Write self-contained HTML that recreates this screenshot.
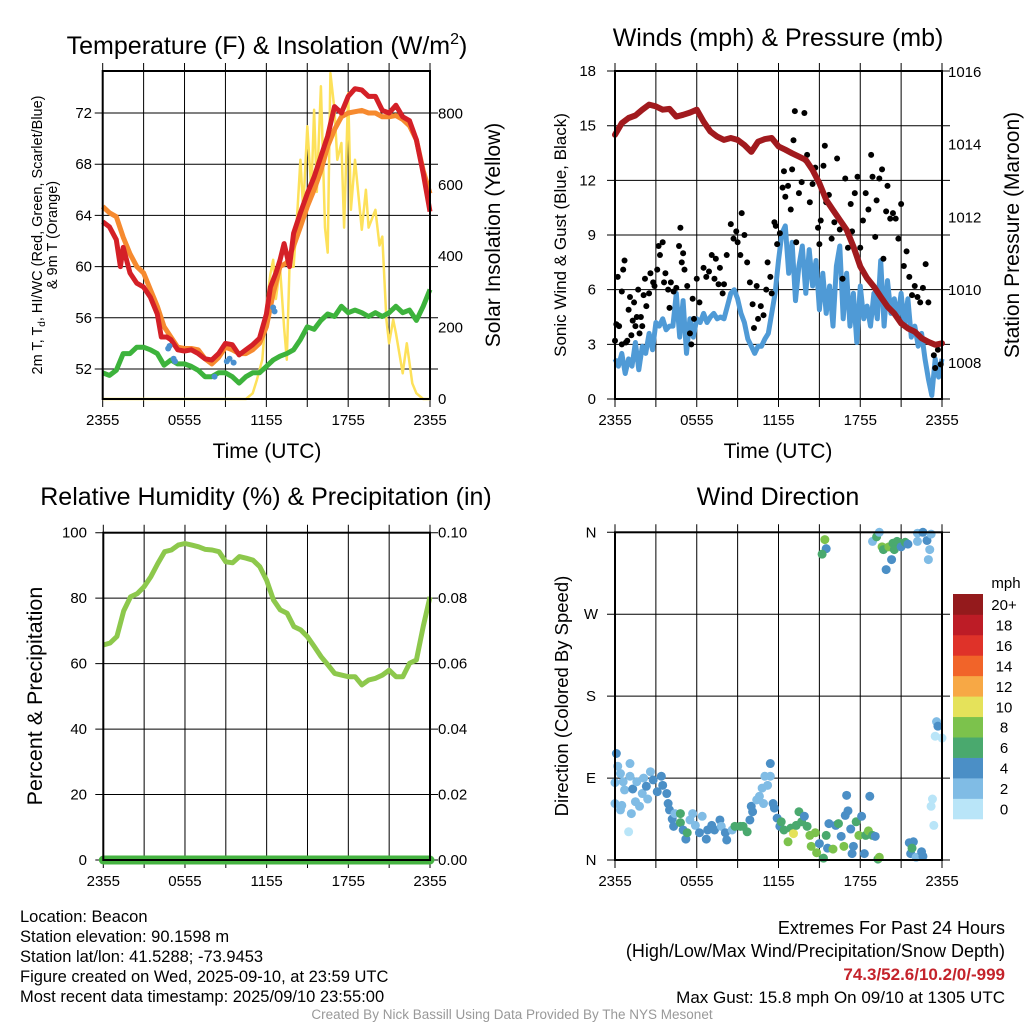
<!DOCTYPE html>
<html><head><meta charset="utf-8"><style>
html,body{margin:0;padding:0;background:#fff;}
svg{display:block;font-family:"Liberation Sans",Arial,sans-serif;}
</style></head><body>
<svg id="fig" width="1024" height="1024" viewBox="0 0 1024 1024" xmlns="http://www.w3.org/2000/svg"></svg>
<script>
// ---------------- DATA ----------------
const xTickLabels = ["2355","0555","1155","1755","2355"];
const tempLeftTicks = [52,56,60,64,68,72];
const insolTicks = [0,200,400,600,800];
const windTicks = [0,3,6,9,12,15,18];
const presTicks = [1008,1010,1012,1014,1016];
const rhTicks = [0,20,40,60,80,100];
const precipTicks = ["0.00","0.02","0.04","0.06","0.08","0.10"];
const dirTickLabels = ["N","E","S","W","N"];
const speedBins = ["0","2","4","6","8","10","12","14","16","18","20+"];

const redHours = [0,0.5,1,1.3,1.5,2,2.5,3,3.5,4,4.3,4.7,5,5.5,6,6.5,7,7.5,8,8.5,9,9.5,10,10.5,11,11.5,12,12.3,12.7,13,13.3,13.7,14,14.5,15,15.5,16,16.5,17,17.5,18,18.5,19,19.5,20,20.5,21,21.5,22,22.5,23,23.5,24];
const tempRed = [63.5,63.1,62.1,60,61.5,59.5,58.7,58.4,57.6,56.3,54.5,54.5,54.3,53.5,53.4,53.5,53.2,52.8,52.7,53.2,54,53.9,53.1,53.5,53.9,54.4,56.3,58.4,59.5,60.5,61.8,60,62.6,64.2,65.7,67,68.6,70.2,72.5,72,73.3,73.9,73.8,73.3,73.3,72.2,72,72.6,71.7,71.4,69.9,67.3,64.3];
const temp9m = [64.7,64.2,63.9,62.3,61,60,59.5,58.2,56.9,55.3,54.5,53.7,53.6,53.6,53.5,52.8,52.4,52.9,53.7,53.5,53.2,53.2,53.5,54,55.3,57.9,60,60.3,61.6,63.1,64.7,66,67.5,69.4,70.7,71.7,72,72.1,72.2,72,72,71.7,71.7,71.8,71.5,71,69.9,67.5,65.7];
const dewpoint = [51.7,51.5,51.9,53.2,53.2,53.7,53.7,53.5,53.2,52.3,52.7,52.4,52.4,52.2,51.9,51.4,51.4,51.7,51.7,51.4,50.9,51.4,51.7,51.7,52.2,52.7,53,53.2,53.5,54.3,55.3,55.1,55.8,56.3,56.1,56.9,56.4,56.6,56.4,56.1,56.4,56.1,56.4,56.9,56.4,56.6,55.8,56.9,58.2];
const hiwcHours = [4.8,4.9,5.2,5.3,8.2,9.1,9.3,9.6,12.5,12.6];
const hiwcValues = [53.6,53.8,52.8,52.6,51.4,52.6,52.8,52.5,56.8,56.5];
const insolHours = [0,10.5,11,11.3,11.7,12,12.3,12.5,12.7,13,13.3,13.5,13.7,14,14.3,14.5,14.7,15,15.3,15.5,15.7,16,16.3,16.5,16.7,17,17.2,17.5,17.7,18,18.2,18.5,19,19.3,19.5,20,20.3,20.5,20.8,21,21.3,21.5,22,22.3,22.7,23,23.5,24];
const insolValues = [0,0,16,53,110,260,350,390,280,370,200,110,370,370,540,670,530,764,580,810,580,876,480,410,913,810,670,717,480,857,530,670,474,586,480,530,430,455,222,156,222,185,72,156,44,16,0,0];

const pressure = [1014.27,1014.59,1014.73,1014.8,1014.96,1015.1,1015.05,1014.96,1014.98,1014.77,1014.82,1014.88,1014.96,1014.63,1014.36,1014.22,1014.13,1014.18,1014.13,1013.99,1013.8,1014.08,1014.15,1014.18,1013.95,1013.86,1013.76,1013.67,1013.58,1013.3,1012.94,1012.48,1012.2,1011.93,1011.66,1011.2,1010.65,1010.33,1010.1,1009.82,1009.55,1009.36,1009.09,1008.95,1008.86,1008.68,1008.58,1008.5,1008.54];
const windSpeed = [2.2,1.8,2.5,1.4,2.2,1.8,3.1,1.6,2.9,2.5,3.6,2.7,4.2,4.0,4.4,3.8,4.0,4.0,5.8,3.4,5.4,2.5,4.4,3.4,4.4,4.2,4.7,4.2,4.5,4.7,4.4,4.5,4.4,5.1,5.8,6.0,5.5,4.7,4.2,3.3,2.9,2.5,2.9,2.9,3.3,3.6,4.7,5.8,7.6,9.1,9.5,6.9,8.6,5.4,7.3,8.4,5.8,8.2,6.2,7.6,4.9,6.9,4.7,6.2,4.0,7.3,8.4,4.4,6.9,4.0,5.8,3.1,6.2,4.4,5.1,4.0,5.8,4.4,7.6,4.0,6.5,4.7,5.5,4.4,5.8,4.0,5.5,3.4,4.0,2.9,3.6,2.2,1.1,0.2,2.2,1.2,2.2];
const gustHours = [0,0.1,0.2,0.3,0.5,0.5,0.6,0.7,0.8,0.9,1,1.1,1.2,1.3,1.4,1.5,1.6,1.7,1.8,1.9,2,2.1,2.2,2.3,2.5,2.6,2.8,2.9,3.1,3.2,3.3,3.5,3.6,3.7,3.9,4,4.1,4.3,4.5,4.7,4.8,4.9,5,5.1,5.3,5.5,5.6,5.7,5.8,6,6.2,6.5,6.7,6.9,7.1,7.3,7.4,7.6,7.7,7.9,8,8.2,8.5,8.7,8.9,9,9.2,9.3,9.5,9.7,9.9,10.1,10.2,10.4,10.5,10.7,10.9,11.1,11.2,11.4,11.5,11.7,11.8,11.9,12.1,12.3,12.4,12.5,12.7,12.9,13,13.1,13.2,13.3,13.5,13.7,13.9,14,14.1,14.3,14.5,14.7,14.9,15,15.1,15.3,15.4,15.5,15.7,15.9,16.1,16.3,16.5,16.7,16.9,17.1,17.3,17.4,17.6,17.8,18,18.2,18.4,18.6,18.8,18.9,19.1,19.2,19.4,19.6,19.7,19.9,20,20.2,20.4,20.6,20.8,21,21.2,21.4,21.6,21.8,22,22.2,22.4,22.6,22.8,23,23.4,23.5,23.7,23.9];
const gustValues = [3.2,4.1,6.7,4,3,5.9,7.1,7.6,3.1,3.2,4.9,5.6,3.5,4.3,5.3,4,4.5,6,3.6,4.5,4,5.7,6.6,5.1,5.8,6.9,6.4,6.2,7.1,8.4,7.9,8.6,6.4,6.9,6,5,6.4,5.9,6.1,8.4,9.4,7.5,8,7.1,6.2,3.6,3,5.5,4.4,6.6,5.3,7.2,6.7,7,7.9,6.6,7.7,6.3,7.2,5.8,6.3,7.9,9.6,8.8,9.2,8.6,7.9,10.2,9,7.5,6.4,5.2,3.9,6.2,4.4,5.1,4.6,6,7.5,6.7,5.8,9.7,9.5,8.5,9.1,11.6,12.5,11.1,11.7,10.4,12.6,14.2,15.8,8.6,11.3,11.9,15.7,13.1,13.4,10.8,11.8,12.7,9.4,8.5,9.8,12.8,13.9,10.8,11.2,8.8,9.7,13.2,9.3,6.6,12.1,8.3,10.7,9.2,11.3,12.2,8.3,9.8,11.3,10.4,13.4,12.2,8.9,10.9,12.1,12.6,7.7,10.3,11.7,9.9,10.2,9.9,8.8,10.7,7.3,8.1,6.7,5.7,6.2,5.6,5.3,6.1,7.4,5.3,2.4,1.7,2.7,1.9];

const rhValues = [65.7,66.3,68.3,76.1,80.4,81.4,83.5,86.6,90.6,94.2,94.7,96.2,96.7,96.2,95.7,94.9,94.7,94.2,91.1,90.8,92.7,92.2,91.6,89.6,85.5,79.4,76.4,75.4,71.3,70.3,68.2,65.2,62.1,59.6,57,56.5,56,56,53.5,55,55.5,56.5,58,56,56,60.1,61.1,71.3,80.4];
const precipValues = [0,0,0,0,0,0,0,0,0,0,0,0,0,0,0,0,0,0,0,0,0,0,0,0,0,0,0,0,0,0,0,0,0,0,0,0,0,0,0,0,0,0,0,0,0,0,0,0,0];

const dirHours = [0.1,0.2,0.4,0,0,0.5,0.4,1,0.6,1.1,1.1,0.7,1.3,1.2,1.5,1.6,1.8,2,2.1,2.3,2.4,2.6,2.8,3.1,3.4,3.5,3.8,3.9,4,4.2,4.3,4.4,4.8,4.8,5,5.2,5.3,5.5,5.7,5.9,6.2,6.4,6.7,6.8,7.1,7.3,7.7,7.8,8.1,8.2,8.6,8.8,9.2,9.4,9.7,9.9,10,10.1,10.4,10.6,10.8,10.9,11,11.2,11.4,11.4,11.6,11.7,11.9,12.1,12.2,12.4,12.7,12.9,13.1,13.3,13.5,13.7,13.9,14.1,14.3,14.4,14.7,14.8,15,15.3,15.5,15.7,15.6,16,16.2,16.4,16.6,16.8,16.9,17,17.1,17.3,17.4,17.5,17.7,17.9,18.1,18.3,18.4,18.6,18.7,18.9,19.1,19.3,19.4,15.4,15.5,15.2,18.9,19.2,19.4,19.6,19.7,19.9,20.1,20.3,20.4,20.5,20.7,20.9,21,21.3,21.5,22.2,22.6,22.9,23.1,23,23.2,22.2,23.6,23.7,23.5,24,23.3,23.2,23.4,21.6,21.9,21.7,21.8,22.1,22.5,22.6];
const dirDeg = [117,103,95,85,62,60,55,31,86,106,92,77,78,51,64,86,59,73,90,81,67,97,88,75,92,82,73,62,55,45,37,51,51,41,33,23,30,44,51,38,30,48,23,33,38,33,44,37,30,22,33,37,37,37,31,44,59,53,66,70,79,62,92,82,106,92,62,57,46,37,42,33,20,35,29,38,53,42,48,37,27,15,30,8,18,2,27,40,13,12,38,40,26,15,49,71,54,34,7,15,42,27,48,7,27,32,70,27,26,1,3,352,342,336,350,355,360,344,341,319,344,330,348,341,350,348,344,349,347,359,360,351,341,330,358,350,152,147,136,134,67,59,38,19,20,7,13,3,9,4];
const dirSpeed = [3,2,1,1,2,2,1,0,2,2,2,2,4,2,2,2,2,1,2,4,2,2,4,4,4,4,4,4,4,4,4,2,6,6,4,4,6,2,2,2,4,2,4,4,4,4,4,2,4,4,2,6,6,6,6,4,4,4,2,2,2,2,2,2,4,2,4,4,4,4,6,6,8,6,10,6,6,6,4,6,8,8,8,8,4,6,6,4,4,8,4,6,4,8,4,4,4,4,4,4,6,8,4,4,6,8,4,6,4,6,8,8,4,6,2,6,2,8,6,4,8,4,6,6,6,6,4,6,4,2,4,4,2,2,2,2,2,4,0,0,0,0,0,4,4,4,6,2,4,4];

// ---------------- HELPERS ----------------
const svg = document.getElementById('fig');
const NS = "http://www.w3.org/2000/svg";
function mk(tag, attrs, parent){
  const e = document.createElementNS(NS, tag);
  for (const k in attrs) e.setAttribute(k, attrs[k]);
  (parent||svg).appendChild(e);
  return e;
}
function txt(s, x, y, size, anchor, parent, extra){
  const e = mk('text', Object.assign({x:x, y:y, 'font-size':size, 'text-anchor':anchor||'middle', fill:'#000'}, extra||{}), parent);
  e.textContent = s;
  return e;
}
const speedColors = ["#b9e5f8","#80bce5","#4b8fc6","#4aa96e","#7cc24c","#e5e25a","#f7a845","#f16429","#df3229","#bd1c26","#941a1c"];
const TICK = 15;

function makePanel(p){
  const g = mk('g', {});
  
  
  p.g = g;
  p.x = h => p.x0 + (p.x1 - p.x0) * h / 24;
  for (let i = 0; i <= 8; i++){
    const xx = p.x(i*3);
    const l = mk('line', {x1:xx, x2:xx, y1:p.y0-8, y2:p.y1+8, stroke:'#000', 'stroke-width':1}, g);
    
    
  }
  return g;
}
function hgrid(p, yy){
  const l = mk('line', {x1:p.x0-8, x2:p.x1+8, y1:yy, y2:yy, stroke:'#000', 'stroke-width':1}, p.g);
  
  
}
function frame(p){
  const r = mk('rect', {x:p.x0, y:p.y0, width:p.x1-p.x0, height:p.y1-p.y0, fill:'none', stroke:'#000', 'stroke-width':2}, p.g);
  
  
}
function xlabels(p, y){
  for (let i = 0; i < xTickLabels.length; i++){
    const t = txt(xTickLabels[i], p.x(i*6), y, TICK, 'middle', p.g);
    
    
  }
}
function polyPath(xs, ys){
  let d = '';
  for (let i = 0; i < xs.length; i++) d += (i ? 'L' : 'M') + xs[i].toFixed(1) + ',' + ys[i].toFixed(1);
  return d;
}
function uniformHours(n){ const a = []; for (let i = 0; i < n; i++) a.push(24*i/(n-1)); return a; }

// ---------------- PANEL 1 ----------------
const p1 = {name:'temperature-panel', x0:102.7, x1:430, y0:71, y1:399};
makePanel(p1);
const yT = v => 369 - (v - 52) * 12.8;
const yI = w => 399 - w * 0.357;
tempLeftTicks.forEach(v => { hgrid(p1, yT(v));
  const t = txt(String(v), 92, yT(v)+5, TICK, 'end', p1.g);
  
   });
insolTicks.forEach(v => {
  const t = txt(String(v), 438, yI(v)+5, TICK, 'start', p1.g);
  
   });
{
  const pi = mk('path', {d:polyPath(insolHours.map(p1.x), insolValues.map(yI)), fill:'none', stroke:'#fde15a', 'stroke-width':2.5, 'stroke-linejoin':'round'}, p1.g);
  
  
  const h = uniformHours(dewpoint.length);
  const pd = mk('path', {d:polyPath(h.map(p1.x), dewpoint.map(yT)), fill:'none', stroke:'#3db33c', 'stroke-width':5, 'stroke-linejoin':'round'}, p1.g);
  
  
  const po = mk('path', {d:polyPath(uniformHours(temp9m.length).map(p1.x), temp9m.map(yT)), fill:'none', stroke:'#f68a2f', 'stroke-width':5, 'stroke-linejoin':'round'}, p1.g);
  
  
  const pr = mk('path', {d:polyPath(redHours.map(p1.x), tempRed.map(yT)), fill:'none', stroke:'#d42027', 'stroke-width':5, 'stroke-linejoin':'round'}, p1.g);
  
  
  for (let i = 0; i < hiwcHours.length; i++){
    const c = mk('circle', {cx:p1.x(hiwcHours[i]), cy:yT(hiwcValues[i]), r:3, fill:'#4a90cf'}, p1.g);
    
    
  }
}
frame(p1); xlabels(p1, 425);

// ---------------- PANEL 2 ----------------
const p2 = {name:'wind-panel', x0:615, x1:942, y0:71, y1:399};
makePanel(p2);
const yW = v => 399 - v * 18.22;
const yP = v => 363 - (v - 1008) * 36.4;
windTicks.forEach(v => { hgrid(p2, yW(v));
  const t = txt(String(v), 596, yW(v)+5, TICK, 'end', p2.g);
  
   });
presTicks.forEach(v => {
  const t = txt(String(v), 948, yP(v)+5, TICK, 'start', p2.g);
  
   });
{
  const pw = mk('path', {d:polyPath(uniformHours(windSpeed.length).map(p2.x), windSpeed.map(yW)), fill:'none', stroke:'#4f9ad6', 'stroke-width':5, 'stroke-linejoin':'round'}, p2.g);
  
  
  for (let i = 0; i < gustHours.length; i++){
    const c = mk('circle', {cx:p2.x(gustHours[i]), cy:yW(gustValues[i]), r:3, fill:'#000'}, p2.g);
    
    
  }
  const pp = mk('path', {d:polyPath(uniformHours(pressure.length).map(p2.x), pressure.map(yP)), fill:'none', stroke:'#a11a1e', 'stroke-width':6, 'stroke-linejoin':'round', 'stroke-linecap':'round'}, p2.g);
  
  
}
frame(p2); xlabels(p2, 425);

// ---------------- PANEL 3 ----------------
const p3 = {name:'humidity-panel', x0:103.3, x1:430, y0:532.7, y1:860};
makePanel(p3);
const yR = v => 860 - v * 3.273;
rhTicks.forEach((v, i) => { hgrid(p3, yR(v));
  const t = txt(String(v), 87, yR(v)+5, TICK, 'end', p3.g);
  
  
  const t2 = txt(precipTicks[i], 438, yR(v)+5, TICK, 'start', p3.g);
  
   });
{
  const ph = mk('path', {d:polyPath(uniformHours(rhValues.length).map(p3.x), rhValues.map(yR)), fill:'none', stroke:'#8dc84c', 'stroke-width':5, 'stroke-linejoin':'round'}, p3.g);
  
  
  const yPr = v => 860 - v * 3273;
  const pq = mk('path', {d:polyPath(uniformHours(precipValues.length).map(p3.x), precipValues.map(yPr)), fill:'none', stroke:'#45b341', 'stroke-width':9, 'stroke-linecap':'round'}, p3.g);
  
  
}
frame(p3); xlabels(p3, 886);

// ---------------- PANEL 4 ----------------
const p4 = {name:'wind-direction-panel', x0:615, x1:942, y0:532.3, y1:860};
makePanel(p4);
const yD = d => 860 - d * 0.9103;
dirTickLabels.forEach((s, i) => { hgrid(p4, yD(i*90));
  const t = txt(s, 591, yD(i*90)+5, TICK, 'middle', p4.g);
  
   });
for (let i = 0; i < dirHours.length; i++){
  const bin = Math.min(10, Math.round(dirSpeed[i] / 2));
  const c = mk('circle', {cx:p4.x(dirHours[i]), cy:yD(dirDeg[i]), r:4.5, fill:speedColors[bin]}, p4.g);
  
  
}
frame(p4); xlabels(p4, 886);
{
  const cb = mk('g', {});
  
  
  for (let i = 0; i < speedBins.length; i++){
    const yy = 594 + (10 - i) * 20.45;
    const r = mk('rect', {x:953, y:yy, width:30, height:20.8, fill:speedColors[i]}, cb);
    
    
    const t = txt(speedBins[i], 1004, yy+16, 15, 'middle', cb);
    
    
  }
  const m = txt('mph', 1006, 588, 15, 'middle', cb);
  
  
}

// ---------------- TITLES ----------------
function rot(s, x, y, size, name){
  const t = txt(s, x, y, size, 'middle', svg, {transform:'rotate(-90 '+x+' '+y+')'});
  
  
  return t;
}
{
  const t1 = txt('', 267, 54, 25, 'middle');
  t1.innerHTML = 'Temperature (F) &amp; Insolation (W/m<tspan font-size="16" dy="-10">2</tspan><tspan dy="10">)</tspan>';
  
  
  const t2 = txt('Winds (mph) & Pressure (mb)', 778, 46, 25);
  
  
  const t3 = txt('Relative Humidity (%) & Precipitation (in)', 266, 505, 25);
  
  
  const t4 = txt('Wind Direction', 778, 505, 25);
  
  
  const a1 = txt('Time (UTC)', 267, 458, 21);
  
  
  const a2 = txt('Time (UTC)', 778, 458, 21);
  
  
  const l1 = rot('', 42, 235, 14.5, 'temperature-y-axis-title');
  l1.innerHTML = '2m T, T<tspan font-size="10" dy="3">d</tspan><tspan dy="-3">, HI/WC (Red, Green, Scarlet/Blue)</tspan>';
  rot('& 9m T (Orange)', 57, 235, 14.5, 'temperature-y-axis-title-line2');
  rot('Solar Insolation (Yellow)', 500, 235, 21, 'insolation-axis-title');
  rot('Sonic Wind & Gust (Blue, Black)', 566, 235, 17, 'wind-axis-title');
  rot('Station Pressure (Maroon)', 1019, 235, 21, 'pressure-axis-title');
  rot('Percent & Precipitation', 42, 696, 21.5, 'rh-axis-title');
  rot('Direction (Colored By Speed)', 568, 696, 18.5, 'direction-axis-title');
}

// ---------------- FOOTER ----------------
{
  const info = ['Location: Beacon','Station elevation: 90.1598 m','Station lat/lon: 41.5288; -73.9453','Figure created on Wed, 2025-09-10, at 23:59 UTC','Most recent data timestamp: 2025/09/10 23:55:00'];
  info.forEach((s, i) => {
    const t = txt(s, 20, 922 + i*20, 16.5, 'start');
    
    
  });
  const e1 = txt('Extremes For Past 24 Hours', 1005, 934, 18, 'end');
  
  
  const e2 = txt('(High/Low/Max Wind/Precipitation/Snow Depth)', 1005, 957, 18, 'end');
  
  
  const e3 = txt('74.3/52.6/10.2/0/-999', 1005, 980, 17, 'end', svg, {fill:'#c4232b','font-weight':'bold'});
  
  
  const e4 = txt('Max Gust: 15.8 mph On 09/10 at 1305 UTC', 1005, 1003, 17, 'end');
  
  
  const cr = txt('Created By Nick Bassill Using Data Provided By The NYS Mesonet', 512, 1019, 13.5, 'middle', svg, {fill:'#999'});
  
  
}
</script>
</body></html>
